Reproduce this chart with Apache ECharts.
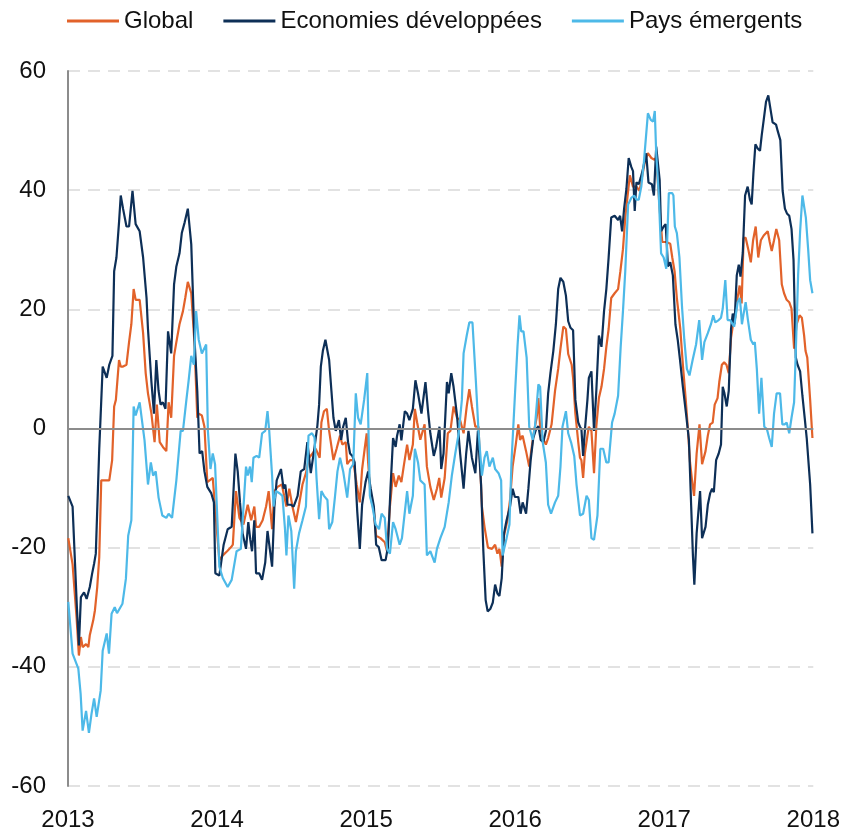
<!DOCTYPE html>
<html>
<head>
<meta charset="utf-8">
<script src="https://cdn.jsdelivr.net/npm/echarts@6/dist/echarts.min.js"></script>
<style>html,body{margin:0;padding:0;background:#fff;}#chart{width:843px;height:835px;}</style>
</head>
<body>
<div id="chart"></div>
<script>
// Week index since start of 2013 (52 weeks per year) and value, per series
const seriesNames = ['Global', 'Economies développées', 'Pays émergents'];
const yearTicks = [2013, 2014, 2015, 2016, 2017, 2018];

const globalData = [
[0.1,-18.4],[1.6,-22.8],[3.0,-31.8],[3.8,-38.1],[4.5,-35.0],[5.1,-36.7],[6.3,-36.2],[7.1,-36.7],[7.6,-34.7],[8.8,-32.2],
[9.4,-30.5],[10.2,-26.6],[10.9,-21.6],[11.6,-8.7],[13.5,-8.7],[14.4,-8.7],[15.4,-5.3],[16.1,3.7],[16.7,4.8],[17.8,11.5],
[18.4,10.4],[19.2,10.4],[20.4,10.7],[21.3,14.5],[22.1,17.5],[22.9,23.4],[23.6,21.6],[25.0,21.6],[26.2,16.0],[27.1,9.3],
[27.9,5.9],[29.1,2.5],[30.2,-2.3],[31.0,4.0],[32.0,-2.3],[33.1,-3.1],[34.3,-3.8],[35.1,4.4],[36.0,1.8],[37.0,12.2],
[37.8,14.5],[38.9,17.5],[40.1,19.7],[40.9,21.9],[41.8,24.6],[43.0,22.7],[44.1,14.5],[45.1,1.8],[45.6,2.5],[46.7,2.2],
[47.6,0.3],[48.6,-9.0],[49.4,-8.7],[50.5,-8.3],[51.4,-13.9],[52.8,-22.1],[54.0,-21.3],[55.5,-20.6],[56.9,-19.9],[57.5,-19.5],
[58.6,-10.5],[59.8,-15.0],[61.2,-16.1],[62.7,-12.8],[63.9,-15.4],[65.0,-13.1],[65.6,-16.5],[66.7,-16.5],[67.9,-15.4],[69.1,-13.1],
[70.0,-10.5],[71.2,-16.9],[72.0,-10.5],[73.1,-9.8],[74.6,-9.4],[75.4,-11.3],[76.2,-13.1],[77.2,-10.1],[78.3,-13.1],[79.5,-15.7],
[80.6,-12.8],[81.8,-9.4],[83.0,-7.5],[84.1,-4.9],[85.3,-4.2],[86.4,-3.4],[87.8,-4.9],[88.4,1.0],[89.3,2.9],[90.3,3.3],
[91.1,-0.4],[92.6,-5.3],[93.7,-3.4],[94.9,-1.2],[95.7,-2.7],[96.9,-2.3],[97.4,-6.0],[98.4,-5.3],[99.5,-5.3],[100.7,-9.4],
[101.8,-12.4],[102.6,-6.8],[103.5,-3.4],[104.2,-0.8],[104.7,-5.7],[105.6,-11.6],[106.7,-13.9],[107.5,-18.0],[109.0,-18.4],[110.5,-19.1],
[111.3,-20.6],[112.3,-13.1],[113.4,-7.5],[114.3,-9.8],[115.4,-7.9],[116.3,-9.0],[117.1,-6.4],[118.3,-2.7],[119.1,-5.3],[120.3,-2.7],
[121.0,3.3],[121.8,1.0],[122.9,-1.9],[124.4,0.7],[125.2,-6.4],[126.4,-9.8],[127.6,-12.0],[128.7,-10.1],[129.5,-8.3],[130.2,-11.6],
[131.4,-8.3],[132.5,-0.8],[133.4,-0.4],[134.5,3.7],[135.7,1.8],[136.8,1.4],[138.0,-0.8],[139.1,3.7],[140.0,6.6],[140.9,3.7],
[142.1,0.3],[143.2,0.3],[144.4,-13.1],[145.3,-16.5],[146.5,-20.0],[147.9,-20.2],[149.0,-19.5],[149.8,-21.0],[150.5,-20.2],[151.3,-23.2],
[152.1,-18.0],[153.3,-15.4],[154.2,-12.0],[155.1,-6.4],[156.2,-2.7],[157.1,0.7],[157.7,-1.9],[158.6,-1.2],[159.8,-3.8],[160.9,-6.4],
[161.7,-3.4],[162.6,-0.4],[163.5,1.8],[164.1,5.1],[164.7,0.3],[165.6,-1.6],[166.7,-2.7],[167.5,-1.6],[168.7,0.7],[169.9,6.3],
[171.0,10.0],[171.8,13.4],[172.8,17.1],[173.7,16.7],[174.5,12.5],[175.7,10.7],[176.2,8.5],[177.0,2.5],[178.0,-2.3],[178.6,-4.9],
[179.1,-5.3],[179.7,-8.3],[180.3,-4.2],[181.2,-1.2],[181.7,0.3],[182.6,-0.4],[183.5,-7.5],[184.3,0.3],[185.2,5.1],[186.1,7.0],
[187.0,10.0],[187.8,13.7],[188.6,16.7],[189.5,21.9],[190.7,22.7],[191.9,23.4],[192.7,26.4],[193.6,30.1],[194.4,35.4],[195.4,39.9],
[196.0,42.5],[197.1,40.6],[198.3,40.6],[199.4,39.9],[200.2,42.1],[201.4,45.1],[202.3,46.2],[203.5,45.4],[204.6,45.1],[205.2,45.5],
[206.4,36.9],[207.3,31.3],[208.7,31.3],[210.1,31.0],[210.8,28.7],[211.6,26.4],[212.4,21.9],[213.6,16.7],[214.5,10.7],[215.5,4.8],
[216.2,0.3],[217.0,-5.7],[217.7,-8.7],[218.4,-11.3],[219.3,-4.2],[220.3,0.7],[221.2,-6.0],[222.4,-3.8],[223.2,-1.2],[224.0,0.7],
[224.9,1.0],[225.6,4.0],[226.6,5.1],[227.2,7.8],[228.1,10.7],[228.9,11.1],[229.7,10.7],[230.5,9.3],[231.3,15.2],[232.1,17.8],
[232.8,18.6],[233.6,22.0],[234.3,24.0],[235.0,21.0],[235.7,32.0],[236.4,32.0],[237.3,30.1],[238.2,27.9],[239.0,31.6],[239.9,33.9],
[240.8,28.7],[241.7,31.6],[242.7,32.4],[244.1,33.1],[244.8,31.3],[245.5,29.8],[246.3,31.6],[247.1,33.5],[248.1,31.6],[249.0,24.2],
[249.8,22.7],[250.7,21.6],[251.6,21.2],[252.4,20.1],[253.3,13.4],[254.2,17.5],[255.2,19.0],[256.0,18.6],[256.8,15.6],[257.3,13.0],
[257.9,11.9],[258.9,4.8],[259.7,-1.6]
];

const developedData = [
[0.1,-11.3],[1.6,-13.1],[3.1,-30.0],[3.8,-36.4],[4.5,-28.3],[5.6,-27.5],[6.5,-28.6],[7.6,-26.6],[8.4,-24.4],[9.1,-22.7],
[9.7,-21.0],[10.9,-3.4],[12.1,10.4],[13.5,8.5],[14.4,10.7],[15.5,12.2],[16.1,26.4],[16.9,28.7],[17.8,34.6],[18.4,39.1],
[19.2,36.9],[20.4,33.9],[21.3,33.9],[22.5,39.9],[23.6,34.3],[25.0,33.1],[26.2,28.7],[27.4,21.9],[27.9,16.7],[29.1,7.8],
[30.0,2.5],[30.8,11.5],[31.6,6.3],[32.3,4.0],[33.1,4.4],[34.0,3.3],[34.9,16.3],[36.0,12.6],[37.0,24.2],[37.8,27.2],
[38.9,29.4],[39.7,32.8],[40.7,34.6],[41.8,36.9],[43.0,30.9],[44.1,15.2],[45.1,6.3],[45.9,-4.2],[46.8,-3.8],[47.6,-7.2],
[48.6,-9.8],[50.0,-10.9],[50.9,-12.4],[51.4,-24.3],[52.8,-24.7],[54.3,-19.5],[55.7,-16.9],[57.1,-16.5],[58.4,-4.2],[59.2,-7.2],
[60.0,-12.4],[60.9,-17.6],[62.1,-20.2],[62.9,-15.7],[63.6,-18.7],[64.2,-20.6],[65.0,-15.4],[65.6,-24.3],[66.7,-24.3],[67.7,-25.4],
[68.8,-22.5],[69.6,-17.2],[71.2,-23.2],[72.0,-13.1],[72.8,-8.7],[74.3,-6.8],[75.2,-10.1],[75.8,-9.4],[76.6,-12.8],[77.8,-12.8],
[78.7,-13.1],[80.1,-11.3],[81.2,-7.2],[82.4,-6.8],[83.5,-2.3],[84.7,-7.5],[85.9,-3.5],[87.0,0.5],[87.6,4.0],[88.2,10.4],
[88.9,13.0],[89.8,14.9],[91.1,11.5],[91.9,6.3],[92.6,1.8],[93.4,-0.4],[94.5,1.4],[95.3,-1.9],[96.0,0.3],[96.9,1.8],
[97.7,-2.3],[98.4,-4.2],[99.2,-4.6],[100.0,-5.7],[100.9,-13.9],[101.8,-20.2],[102.6,-12.8],[103.8,-9.0],[104.7,-7.2],[105.6,-10.1],
[106.7,-13.1],[107.5,-19.5],[108.4,-19.9],[109.4,-22.1],[110.8,-22.1],[111.6,-19.9],[112.5,-10.1],[113.4,-1.6],[114.3,-3.1],[114.8,-1.2],
[115.7,0.7],[116.3,-2.0],[117.5,2.9],[118.3,2.5],[119.1,1.4],[120.3,3.3],[121.2,8.1],[122.1,5.9],[123.3,2.5],[124.7,7.8],
[125.6,2.9],[126.4,-0.8],[127.6,-4.6],[128.4,-3.1],[129.6,0.3],[130.2,-6.8],[131.0,-4.2],[132.2,7.8],[132.8,5.9],[133.7,9.3],
[134.5,7.0],[135.7,2.2],[136.8,-4.2],[138.0,-10.1],[138.9,-4.2],[139.7,-0.4],[140.9,-4.9],[142.1,-7.5],[143.0,-0.4],[144.1,-9.4],
[144.9,-20.6],[145.7,-28.8],[146.4,-30.7],[147.3,-30.3],[148.2,-29.2],[149.0,-26.2],[149.8,-27.7],[150.5,-28.1],[151.3,-25.1],[152.1,-17.6],
[153.0,-15.4],[154.2,-13.1],[155.1,-10.1],[155.9,-11.5],[157.1,-11.5],[157.9,-14.3],[158.6,-12.4],[159.8,-14.3],[160.6,-10.1],[161.4,-5.3],
[162.3,-1.6],[163.3,-0.1],[164.1,0.4],[164.9,-1.9],[165.8,-2.3],[166.7,-0.4],[167.5,5.9],[168.3,9.3],[169.3,13.0],[170.2,17.5],
[171.0,23.4],[171.8,25.3],[172.8,24.6],[173.7,22.3],[174.5,18.0],[175.3,16.9],[176.2,16.5],[177.0,4.8],[178.0,1.0],[178.6,0.3],
[179.1,-0.1],[179.7,-4.6],[180.3,-0.4],[181.2,4.8],[181.7,8.5],[182.6,9.6],[183.5,-0.4],[184.3,6.3],[185.2,15.6],[186.1,13.7],
[187.0,19.7],[187.8,23.4],[188.6,28.7],[189.5,35.4],[190.7,35.7],[191.9,35.0],[192.6,35.7],[193.3,33.1],[194.0,36.9],[194.8,40.2],
[195.6,45.4],[196.5,43.9],[197.1,43.2],[197.7,36.5],[198.3,41.3],[199.1,41.0],[199.8,42.1],[200.6,43.6],[201.7,46.2],[202.5,41.3],
[203.7,41.0],[204.4,39.1],[205.2,47.3],[206.4,41.7],[206.9,33.1],[207.8,33.9],[208.5,34.3],[209.3,27.2],[210.1,27.9],[211.0,25.7],
[211.9,17.5],[212.7,14.9],[213.5,11.5],[214.5,7.0],[215.6,2.5],[216.6,-1.9],[217.4,-13.1],[218.0,-21.3],[218.5,-26.2],[219.3,-17.6],
[220.5,-10.5],[221.2,-18.4],[222.4,-16.5],[223.2,-12.8],[224.0,-10.9],[224.7,-10.1],[225.3,-10.7],[226.1,-5.3],[227.0,-4.2],[227.8,-2.7],
[228.4,7.0],[229.0,5.9],[229.8,3.7],[230.5,6.3],[231.3,16.7],[231.9,19.3],[232.5,17.5],[233.3,25.7],[234.0,27.5],[234.6,25.5],
[235.4,29.5],[236.2,39.1],[237.1,40.6],[237.9,38.4],[238.5,37.6],[239.1,42.8],[239.8,47.7],[240.6,47.0],[241.4,46.6],[242.0,49.2],
[242.7,51.8],[243.5,54.8],[244.3,55.9],[245.3,52.9],[245.8,51.4],[247.0,51.0],[247.6,49.9],[248.5,48.4],[249.3,39.9],[250.1,36.9],
[250.8,36.1],[251.6,35.7],[252.4,33.5],[253.1,28.3],[253.9,11.9],[254.5,10.7],[255.4,9.6],[256.2,5.5],[257.0,1.8],[257.7,-1.6],
[258.3,-1.6],[258.9,-9.4],[259.7,-17.6]
];

const emergingData = [
[0.1,-29.1],[1.6,-37.8],[3.6,-40.3],[4.4,-44.5],[5.1,-50.7],[6.3,-47.4],[7.3,-51.1],[8.2,-47.9],[9.1,-45.3],[10.0,-48.4],
[11.4,-44.0],[12.1,-37.3],[13.5,-34.4],[14.3,-37.8],[15.2,-31.1],[16.3,-30.0],[17.1,-31.0],[19.0,-29.4],[20.2,-25.2],[21.0,-18.0],
[22.1,-15.4],[22.9,3.7],[23.6,2.2],[25.0,4.4],[26.7,-2.0],[27.9,-9.4],[28.9,-5.7],[29.7,-7.9],[30.6,-7.2],[31.6,-11.6],
[32.9,-14.6],[34.3,-15.0],[35.1,-14.3],[36.3,-15.0],[37.8,-8.7],[39.3,-0.4],[40.1,-0.4],[41.3,4.8],[42.1,8.1],[43.0,12.2],
[43.9,10.7],[44.7,19.7],[45.6,14.9],[46.7,12.6],[48.2,14.1],[48.8,-0.4],[49.7,-6.8],[50.5,-4.2],[51.3,-6.0],[52.8,-23.2],
[54.0,-25.1],[55.7,-26.6],[57.1,-25.4],[57.7,-25.1],[58.8,-20.6],[60.3,-20.2],[62.1,-6.4],[62.7,-7.9],[63.5,-6.4],[64.1,-9.0],
[64.7,-4.9],[65.8,-4.6],[66.7,-4.9],[67.7,-0.8],[68.8,-0.4],[69.6,2.9],[70.2,-0.4],[71.2,-7.9],[71.7,-13.1],[72.5,-10.5],
[73.9,-10.9],[74.8,-11.3],[75.7,-16.9],[76.2,-21.3],[76.9,-14.6],[77.9,-17.2],[78.9,-26.9],[79.5,-20.6],[80.6,-17.6],[81.8,-15.4],
[83.0,-13.1],[83.9,-1.2],[85.1,-0.8],[86.0,-1.5],[86.7,-8.3],[87.6,-15.2],[88.4,-10.5],[89.3,-11.3],[90.5,-12.0],[91.1,-16.9],
[92.2,-15.7],[93.1,-11.6],[94.0,-7.2],[94.9,-4.9],[96.0,-7.2],[97.4,-11.6],[98.4,-6.8],[99.5,-6.0],[100.4,5.9],[101.2,1.8],
[102.1,0.7],[103.3,4.8],[104.4,9.3],[105.3,-11.3],[106.2,-13.1],[107.3,-16.1],[108.5,-16.9],[109.4,-14.3],[110.5,-15.0],[111.3,-20.2],
[112.3,-21.0],[113.4,-15.7],[114.3,-16.9],[115.7,-19.5],[116.5,-18.4],[117.1,-18.4],[118.3,-10.5],[119.1,-14.3],[120.3,-11.3],[121.0,-3.4],
[122.1,-5.7],[122.9,-8.7],[124.4,-9.4],[125.2,-21.3],[126.4,-20.6],[127.9,-22.5],[128.7,-20.2],[129.9,-18.4],[131.4,-16.5],[132.8,-12.4],
[133.9,-7.9],[135.1,-4.2],[136.3,-0.8],[137.4,4.8],[138.0,12.6],[139.1,15.6],[140.0,17.8],[141.1,17.8],[142.3,7.8],[143.2,-0.4],
[144.4,-7.9],[145.3,-4.9],[146.1,-3.8],[147.0,-6.4],[148.2,-4.9],[149.0,-6.8],[150.2,-7.5],[151.1,-8.7],[151.6,-21.3],[152.1,-21.0],
[153.0,-18.4],[154.0,-16.1],[154.7,-5.7],[155.9,5.5],[156.8,13.7],[157.5,19.0],[158.1,16.3],[158.9,16.3],[160.0,11.9],[160.9,0.3],
[162.1,-1.9],[162.9,0.3],[164.1,7.4],[164.7,7.0],[165.6,-2.3],[166.7,-5.7],[167.5,-12.8],[168.5,-14.3],[169.9,-12.4],[171.0,-11.3],
[171.8,-6.4],[172.5,0.3],[173.7,2.9],[174.5,-0.8],[175.6,-2.5],[176.6,-4.6],[177.4,-9.4],[178.6,-14.6],[179.7,-14.3],[180.9,-11.3],
[181.7,-12.0],[182.6,-18.4],[183.5,-18.7],[184.7,-14.6],[185.7,-3.4],[186.7,-3.4],[187.8,-5.7],[188.6,-5.7],[189.8,1.0],[190.7,2.5],
[191.9,5.5],[192.8,13.7],[193.6,19.7],[194.4,26.4],[195.4,37.6],[196.5,38.7],[197.5,39.1],[198.3,38.4],[199.1,38.4],[200.0,40.6],
[200.9,44.7],[202.3,52.9],[203.3,51.8],[204.1,51.5],[204.7,53.3],[205.2,46.2],[206.1,39.1],[206.9,29.4],[207.8,28.7],[208.7,26.8],
[209.6,39.5],[210.8,39.5],[211.2,39.1],[211.7,33.9],[212.4,32.8],[213.3,28.7],[214.2,20.4],[215.0,14.9],[215.9,10.0],[216.8,8.9],
[217.9,11.5],[219.1,14.1],[220.2,18.2],[221.2,11.5],[222.0,14.5],[223.2,16.0],[224.3,17.5],[225.1,19.0],[225.8,17.8],[227.0,18.2],
[227.8,18.6],[228.4,20.1],[229.3,24.9],[230.1,18.2],[231.0,18.2],[232.4,17.1],[233.6,21.2],[234.4,21.9],[235.1,17.5],[235.6,19.0],
[236.4,21.2],[237.2,18.2],[238.2,14.9],[239.1,14.1],[239.6,14.5],[240.3,10.0],[241.1,2.5],[241.9,8.5],[242.9,0.3],[243.8,-0.1],
[244.6,-1.6],[245.5,-3.1],[246.3,2.5],[247.2,5.9],[248.4,5.9],[249.2,0.7],[250.0,0.7],[250.7,1.0],[251.6,-0.8],[252.4,1.8],
[253.3,4.4],[253.9,13.0],[254.7,25.7],[255.4,33.1],[256.2,39.1],[257.4,35.4],[258.2,30.1],[258.9,24.9],[259.7,22.7]
];

const colors = ['#E2622A', '#0D2F57', '#4DB9E8'];
const FONT = "'Liberation Sans', Arial, sans-serif";

function toYear(d) { return [2013 + d[0] / 52, d[1]]; }

const chart = echarts.init(document.getElementById('chart'), null, {renderer: 'canvas'});
const mk = (name, data, color) => ({
  name: name,
  type: 'line',
  data: data.map(toYear),
  showSymbol: false,
  symbol: 'none',
  lineStyle: {width: 2.2, color: color},
  itemStyle: {color: color},
  emphasis: {disabled: true},
  animation: false
});

const s0 = mk(seriesNames[0], globalData, colors[0]);
s0.markLine = {
  silent: true, symbol: 'none', label: {show: false},
  lineStyle: {color: '#8c8c8c', width: 2, type: 'solid'},
  data: [{yAxis: 0}],
  animation: false
};

chart.setOption({
  backgroundColor: '#ffffff',
  animation: false,
  textStyle: {fontFamily: FONT},
  legend: {
    data: seriesNames.map(n => ({name: n, icon: 'rect'})),
    left: 62,
    top: 4,
    itemWidth: 52,
    itemHeight: 3,
    itemGap: 30,
    textStyle: {fontSize: 24, color: '#111', fontFamily: FONT}
  },
  grid: {left: 68, right: 27, top: 71, bottom: 49, containLabel: false},
  xAxis: {
    type: 'value',
    min: yearTicks[0],
    max: yearTicks[yearTicks.length - 1],
    interval: 1,
    axisLine: {show: false},
    axisTick: {show: false},
    splitLine: {show: false},
    axisLabel: {
      fontSize: 24, color: '#111', margin: 22, fontFamily: FONT,
      formatter: v => String(Math.round(v))
    }
  },
  yAxis: {
    type: 'value',
    min: -60, max: 60, interval: 20,
    axisLine: {show: true, onZero: false, lineStyle: {color: '#8c8c8c', width: 2}},
    axisTick: {show: false},
    axisLabel: {fontSize: 24, color: '#111', margin: 22, fontFamily: FONT},
    splitLine: {show: true, lineStyle: {color: '#d9d9d9', width: 1.6, type: [12, 8]}}
  },
  series: [
    s0,
    mk(seriesNames[1], developedData, colors[1]),
    mk(seriesNames[2], emergingData, colors[2])
  ]
});
</script>
</body>
</html>
